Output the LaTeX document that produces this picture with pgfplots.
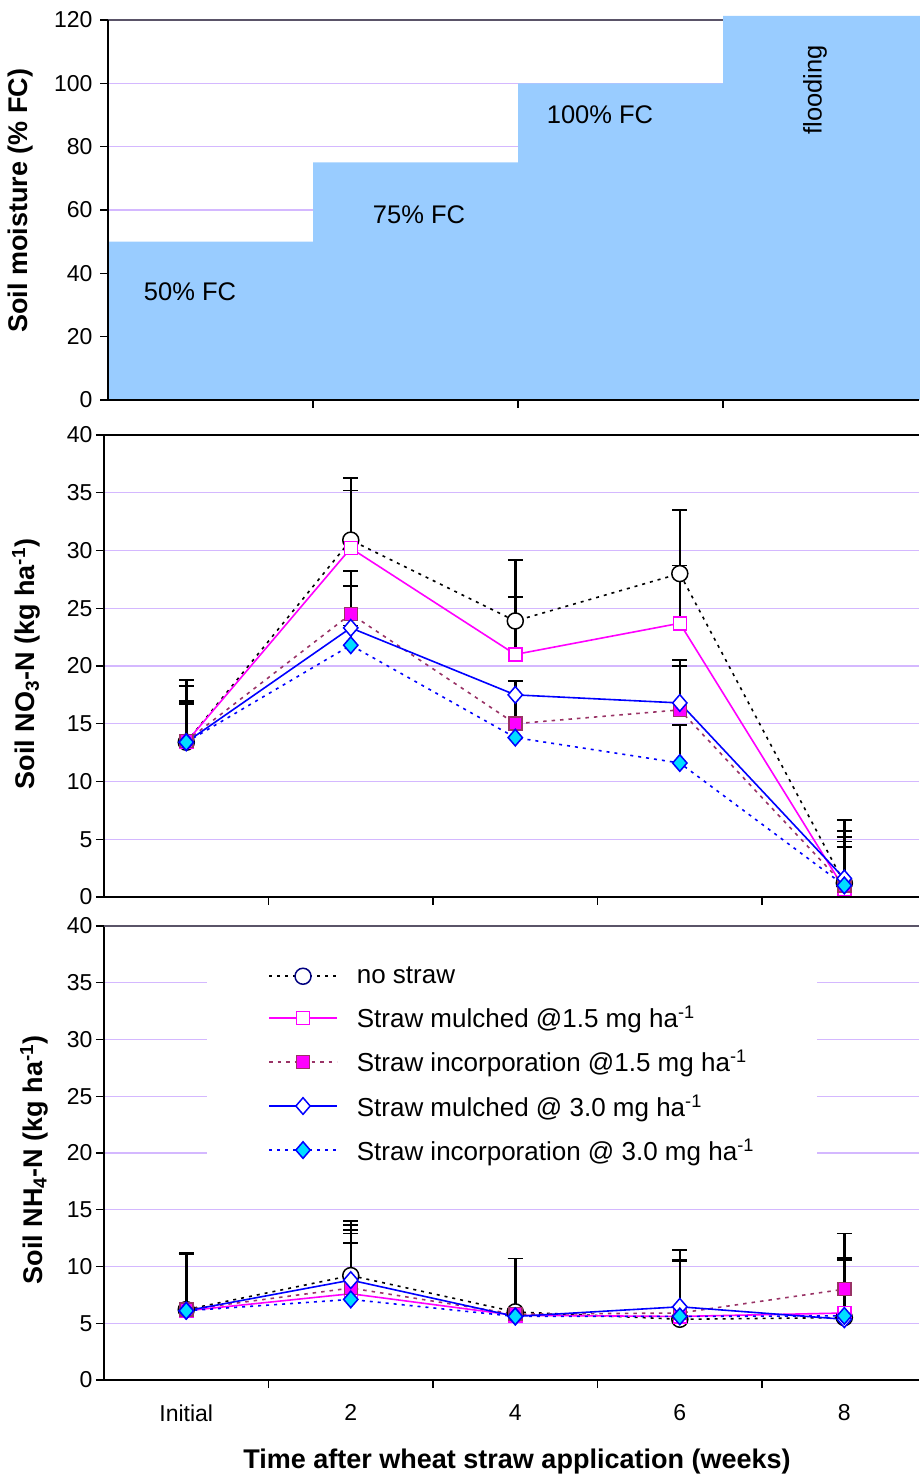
\documentclass[border=0pt]{standalone}
\usepackage{fontspec}
\setmainfont{Liberation Sans}
\usepackage{pgfplots}
\usepackage{pgfplotstable}
\pgfplotsset{compat=1.18}
\definecolor{gridc}{HTML}{D4B8FF}
\definecolor{fillc}{HTML}{99CCFF}
\definecolor{plum}{HTML}{993366}
\definecolor{cyanc}{HTML}{00DDFF}
\definecolor{framec}{HTML}{5A5468}
\definecolor{navyc}{HTML}{000080}
\definecolor{magc}{HTML}{FF00FF}
\definecolor{bluec}{HTML}{0000FF}

\pgfplotstableread{
x ns nse m15 m15e i15 i15e m30 m30e i30 i30e
0 13.4 5.4 13.4 4.9 13.5 3.5 13.4 3.5 13.4 3.3
1 30.9 5.4 30.2 5.0 24.5 3.7 23.3 3.6 21.8 1.7
2 23.9 5.3 21.0 5.0 15.0 2.5 17.5 1.2 13.8 1.7
3 28.0 5.5 23.7 5.0 16.2 3.8 16.8 3.7 11.6 3.3
4 1.2 5.5 0.7 5.0 1.0 4.2 1.6 3.2 1.0 3.3
}\noth

\pgfplotstableread{
x ns nse m15 m15e i15 i15e m30 m30e i30 i30e
0 6.2 5.0 6.1 5.0 6.2 4.9 6.1 5.0 6.1 5.0
1 9.2 4.8 7.6 5.3 8.1 5.1 8.8 4.85 7.1 5.0
2 6.0 4.7 5.7 5.0 5.8 4.9 5.6 5.1 5.6 5.1
3 5.35 6.1 5.6 5.0 5.9 4.7 6.45 4.0 5.6 4.9
4 5.5 5.1 5.9 4.9 8.0 4.9 5.35 5.3 5.65 4.9
}\nhf

\pgfplotsset{
  every axis/.append style={
    scale only axis,
    axis lines*=left,
    axis line style={black, line width=1.5pt},
    tick align=outside,
    major tick length=8pt,
    every tick/.style={black, line width=1.2pt},
    ymajorgrids,
    grid style={gridc, line width=1.3pt},
    tick label style={font=\fontsize{23}{23}\selectfont},
    /pgf/number format/assume math mode=true,
    clip=false,
  },
  eb/.style={error bars/y dir=plus, error bars/y explicit,
    error bars/error bar style={black, line width=2.5pt, solid},
    error bars/error mark=-,
    error bars/error mark options={rotate=90, black, line width=1.8pt, mark size=7.5pt, solid}},
  sns/.style={black, line width=1.6pt, dash pattern=on 3pt off 5pt, mark=*, mark size=8pt,
    mark options={solid, fill=white, draw=black, line width=1.5pt}},
  sm15/.style={magc, line width=1.6pt, mark=square*, mark size=6.5pt,
    mark options={solid, fill=white, draw=magc, line width=1.5pt}},
  si15/.style={plum, line width=1.6pt, dash pattern=on 3.5pt off 5pt, mark=square*, mark size=6.5pt,
    mark options={solid, fill=magc, draw=plum, line width=1.5pt}},
  sm30/.style={bluec, line width=1.6pt, mark=diamond*, mark size=8.3pt,
    mark options={solid, fill=white, draw=bluec, line width=1.5pt, xscale=1.15}},
  si30/.style={bluec, line width=1.6pt, dash pattern=on 3pt off 5pt, mark=diamond*, mark size=8.3pt,
    mark options={solid, fill=cyanc, draw=bluec, line width=1.5pt, xscale=1.15}},
}

\begin{document}
\begin{tikzpicture}
\useasboundingbox (0,0) rectangle (919pt,1475pt);

% ---------- top: soil moisture ----------
\begin{axis}[at={(108pt,1075pt)}, anchor=south west,
  width=811pt, height=380pt,
  xmin=0, xmax=3.956, ymin=0, ymax=120,
  ytick={0,20,...,120}, xtick={1,2,3}, xticklabels={},
  yticklabel style={xshift=-4pt}]
\addplot[fill=fillc, draw=none, const plot] coordinates {(0,50) (1,75) (2,100) (3,121.3) (4,121.3)} \closedcycle;
\draw[framec, line width=1.5pt] (axis cs:0,120) -- (axis cs:3,120);
\draw[black, line width=1.5pt] (rel axis cs:0,1) -- (rel axis cs:0,0) -- (rel axis cs:1,0);
\node[font=\fontsize{25.5}{25.5}\selectfont] at (axis cs:0.40,34.1) {50\% FC};
\node[font=\fontsize{25.5}{25.5}\selectfont] at (axis cs:1.517,58.4) {75\% FC};
\node[font=\fontsize{25.5}{25.5}\selectfont] at (axis cs:2.40,90) {100\% FC};
\node[font=\fontsize{25.5}{25.5}\selectfont, rotate=90] at (axis cs:3.449,97.9) {flooding};
\end{axis}

% ---------- middle: NO3 ----------
\begin{axis}[at={(104pt,578pt)}, anchor=south west,
  width=815pt, height=462pt,
  xmin=-0.5, xmax=4.454, ymin=0, ymax=40,
  ytick={0,5,...,40}, xtick={0.5,1.5,2.5,3.5}, xticklabels={}]
\draw[black, line width=1.5pt] (rel axis cs:0,1) -- (rel axis cs:1,1);
\addplot[sns, eb] table[x=x, y=ns, y error=nse] {\noth};
\addplot[sm15, eb] table[x=x, y=m15, y error=m15e] {\noth};
\addplot[si15, eb] table[x=x, y=i15, y error=i15e] {\noth};
\addplot[sm30, eb] table[x=x, y=m30, y error=m30e] {\noth};
\addplot[si30, eb] table[x=x, y=i30, y error=i30e] {\noth};
\end{axis}

% ---------- bottom: NH4 ----------
\begin{axis}[at={(104pt,95pt)}, anchor=south west,
  width=815pt, height=454pt,
  xmin=-0.5, xmax=4.454, ymin=0, ymax=40,
  ytick={0,5,...,40}, xtick={0.5,1.5,2.5,3.5}, xticklabels={},
  extra x ticks={0,1,2,3,4}, extra x tick labels={Initial,2,4,6,8},
  extra x tick style={major tick length=0pt, xticklabel style={yshift=-21pt}},
  legend cell align=left,
  legend image code/.code={\draw[mark repeat=2,mark phase=2] plot coordinates {(0pt,0pt)(34pt,0pt)(68pt,0pt)};},
  legend style={at={(axis description cs:0.1264,0.965)}, anchor=north west,
    fill=white, draw=none, inner xsep=61pt, inner ysep=23pt, row sep=17pt, column sep=17pt,
    font=\fontsize{26}{28}\selectfont}]
\draw[framec, line width=1.5pt] (rel axis cs:0,1) -- (rel axis cs:1,1);
\addplot[sns, eb, forget plot] table[x=x, y=ns, y error=nse] {\nhf};
\addplot[sm15, eb, forget plot] table[x=x, y=m15, y error=m15e] {\nhf};
\addplot[si15, eb, forget plot] table[x=x, y=i15, y error=i15e] {\nhf};
\addplot[sm30, eb, forget plot] table[x=x, y=m30, y error=m30e] {\nhf};
\addplot[si30, eb, forget plot] table[x=x, y=i30, y error=i30e] {\nhf};
\addlegendimage{sns, mark options={solid, fill=white, draw=navyc, line width=1.5pt}}
\addlegendentry{no straw}
\addlegendimage{sm15}
\addlegendentry{Straw mulched @1.5 mg ha\textsuperscript{-1}}
\addlegendimage{si15}
\addlegendentry{Straw incorporation @1.5 mg ha\textsuperscript{-1}}
\addlegendimage{sm30}
\addlegendentry{Straw mulched @ 3.0 mg ha\textsuperscript{-1}}
\addlegendimage{si30}
\addlegendentry{Straw incorporation @ 3.0 mg ha\textsuperscript{-1}}
\end{axis}

\node[rotate=90, font=\bfseries\fontsize{27}{27}\selectfont] at (21pt,1274pt) {Soil moisture (\% FC)};
\node[rotate=90, font=\bfseries\fontsize{27}{27}\selectfont] at (26pt,811pt) {Soil NO\textsubscript{3}-N (kg ha\textsuperscript{-1})};
\node[rotate=90, font=\bfseries\fontsize{27}{27}\selectfont] at (34pt,315pt) {Soil NH\textsubscript{4}-N (kg ha\textsuperscript{-1})};
\node[font=\bfseries\fontsize{27}{27}\selectfont] at (517pt,13pt) {Time after wheat straw application (weeks)};
\end{tikzpicture}
\end{document}
